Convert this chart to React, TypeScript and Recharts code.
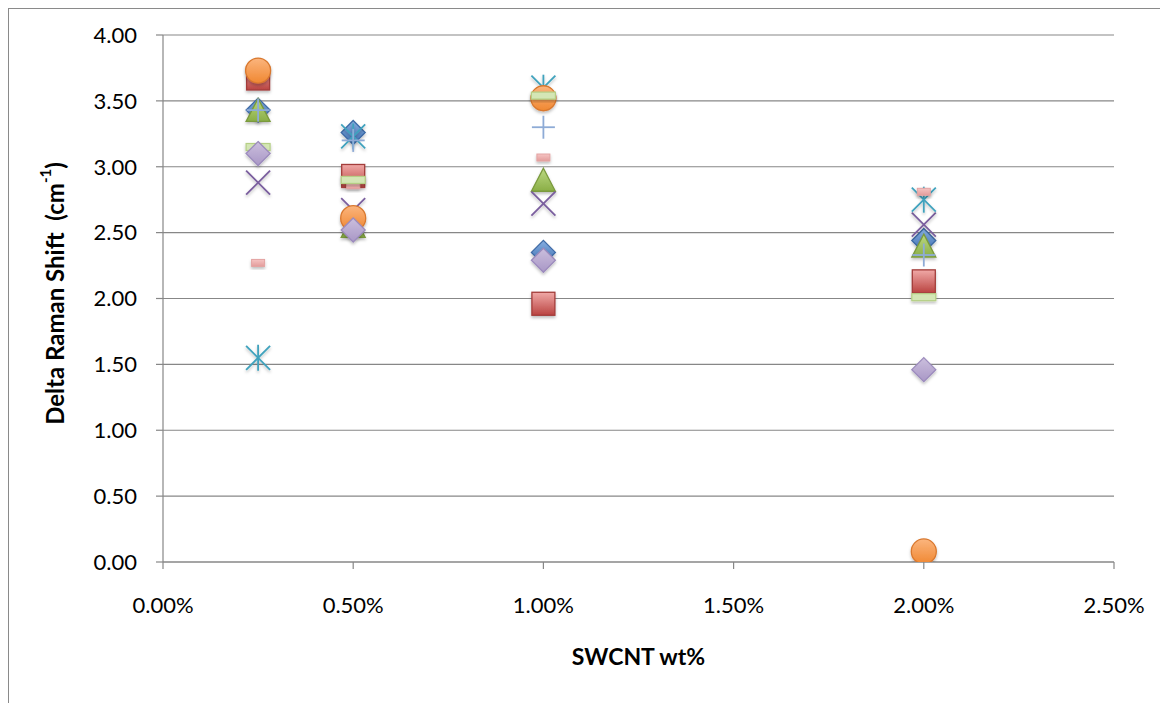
import React from 'react';
import { ScatterChart, Scatter, XAxis, YAxis, CartesianGrid, Label } from 'recharts';

// ---- data ----
const xValues = [0.0025, 0.005, 0.01, 0.02];
const xTicks = [0, 0.005, 0.01, 0.015, 0.02, 0.025];
const yTicks = [0, 0.5, 1, 1.5, 2, 2.5, 3, 3.5, 4];

const s1Diamond = [3.43, 3.26, 2.35, 2.44];
const s2Square = [3.67, 2.93, 1.96, 2.13];
const s3Triangle = [3.42, 2.54, 2.89, 2.39];
const s4Cross = [2.88, 2.67, 2.72, 2.56];
const s5Star = [1.55, 3.23, 3.6, 2.75];
const s6Circle = [3.73, 2.61, 3.52, 0.08];
const s7Plus = [3.43, 3.2, 3.3, 2.33];
const s8Dash = [2.27, 2.86, 3.07, 2.81];
const s9LongDash = [3.15, 2.9, 3.54, 2.01];
const s10Diamond = [3.1, 2.52, 2.29, 1.46];

const FONT = 'Lato, "Open Sans", sans-serif';
const GRAY = '#878787';

const toPoints = (ys: number[]) => xValues.map((x, i) => ({ x, y: ys[i] }));

type P = { cx?: number; cy?: number };

const diamond = (fill: string, stroke: string) => (p: P) => {
  const cx = p.cx ?? 0, cy = p.cy ?? 0, h = 12;
  return (
    <polygon
      points={`${cx},${cy - h} ${cx + h},${cy} ${cx},${cy + h} ${cx - h},${cy}`}
      fill={fill}
      stroke={stroke}
      strokeWidth={1.3}
      filter="url(#mkShadow)"
    />
  );
};

const square = (p: P) => {
  const cx = p.cx ?? 0, cy = p.cy ?? 0, h = 11.5;
  return (
    <rect x={cx - h} y={cy - h} width={2 * h} height={2 * h} fill="url(#gRed)" stroke="#A33D3A" strokeWidth={1.3} filter="url(#mkShadow)" />
  );
};

const triangle = (p: P) => {
  const cx = p.cx ?? 0, cy = p.cy ?? 0;
  return (
    <polygon
      points={`${cx},${cy - 13} ${cx + 12},${cy + 10} ${cx - 12},${cy + 10}`}
      fill="url(#gGreen)"
      stroke="#7A9A3D"
      strokeWidth={1.3}
      filter="url(#mkShadow)"
    />
  );
};

const cross = (p: P) => {
  const cx = p.cx ?? 0, cy = p.cy ?? 0, h = 12;
  return (
    <g stroke="#7A5E9E" strokeWidth={1.8} filter="url(#mkShadow)">
      <line x1={cx - h} y1={cy - h} x2={cx + h} y2={cy + h} />
      <line x1={cx - h} y1={cy + h} x2={cx + h} y2={cy - h} />
    </g>
  );
};

const star = (p: P) => {
  const cx = p.cx ?? 0, cy = p.cy ?? 0, h = 12;
  return (
    <g stroke="#3FA2BD" strokeWidth={1.8} filter="url(#mkShadow)">
      <line x1={cx - h} y1={cy - h} x2={cx + h} y2={cy + h} />
      <line x1={cx - h} y1={cy + h} x2={cx + h} y2={cy - h} />
      <line x1={cx} y1={cy - h - 1} x2={cx} y2={cy + h + 1} />
    </g>
  );
};

const circle = (p: P) => {
  const cx = p.cx ?? 0, cy = p.cy ?? 0;
  return <circle cx={cx} cy={cy} r={12.5} fill="url(#gOrange)" stroke="#D9782E" strokeWidth={1.3} filter="url(#mkShadow)" />;
};

const plus = (p: P) => {
  const cx = p.cx ?? 0, cy = p.cy ?? 0, h = 11.5;
  return (
    <g stroke="#8EABD6" strokeWidth={1.8}>
      <line x1={cx - h} y1={cy} x2={cx + h} y2={cy} />
      <line x1={cx} y1={cy - h} x2={cx} y2={cy + h} />
    </g>
  );
};

const dash = (p: P) => {
  const cx = p.cx ?? 0, cy = p.cy ?? 0;
  return <rect x={cx - 6.5} y={cy - 3.5} width={13} height={7} fill="url(#gPink)" stroke="#E3A3A2" strokeWidth={1} filter="url(#mkShadow)" />;
};

const longDash = (p: P) => {
  const cx = p.cx ?? 0, cy = p.cy ?? 0;
  return <rect x={cx - 12} y={cy - 3.5} width={24} height={7} fill="#D4E6B5" stroke="#B5CF85" strokeWidth={1.2} filter="url(#mkShadow)" />;
};

const series = [
  { name: 'S1', data: s1Diamond, shape: diamond('url(#gBlue)', '#3D6AA6') },
  { name: 'S2', data: s2Square, shape: square },
  { name: 'S3', data: s3Triangle, shape: triangle },
  { name: 'S4', data: s4Cross, shape: cross },
  { name: 'S5', data: s5Star, shape: star },
  { name: 'S6', data: s6Circle, shape: circle },
  { name: 'S7', data: s7Plus, shape: plus },
  { name: 'S8', data: s8Dash, shape: dash },
  { name: 'S9', data: s9LongDash, shape: longDash },
  { name: 'S10', data: s10Diamond, shape: diamond('url(#gLav)', '#9C8BBD') },
];

const YLabel = (props: any) => {
  const vb = props.viewBox || { x: 0, y: 0, width: 0, height: 0 };
  const x = vb.x + 26;
  const y = vb.y + vb.height / 2 - 5;
  return (
    <text
      x={x}
      y={y}
      transform={`rotate(-90 ${x} ${y})`}
      textAnchor="middle"
      dominantBaseline="central"
      fontFamily={FONT}
      fontWeight="bold"
      fontSize={24}
      fill="#000"
      style={{ whiteSpace: 'pre' }}
    >
      {'Delta Raman Shift  (cm'}
      <tspan fontSize={15} dy={-9}>-1</tspan>
      <tspan dy={9}>)</tspan>
    </text>
  );
};

const XLabel = (props: any) => {
  const vb = props.viewBox || { x: 0, y: 0, width: 0, height: 0 };
  return (
    <text x={vb.x + vb.width / 2} y={vb.y + 103} textAnchor="middle" fontFamily={FONT} fontWeight="bold" fontSize={23} fill="#000">
      SWCNT wt%
    </text>
  );
};

export default function App() {
  return (
    <div style={{ position: 'relative', width: 1160, height: 695, overflow: 'hidden', background: '#fff' }}>
      <div
        style={{
          position: 'absolute',
          left: -1,
          top: -1,
          width: 1400,
          height: 1000,
          border: '2px solid #8A8A8A',
          boxSizing: 'border-box',
        }}
      />
      <svg width={0} height={0} style={{ position: 'absolute' }}>
        <defs>
          <linearGradient id="gBlue" x1="0" y1="0" x2="0" y2="1">
            <stop offset="0%" stopColor="#86AEE0" />
            <stop offset="100%" stopColor="#3E70B3" />
          </linearGradient>
          <linearGradient id="gRed" x1="0" y1="0" x2="0" y2="1">
            <stop offset="0%" stopColor="#F0A9A7" />
            <stop offset="100%" stopColor="#BA4441" />
          </linearGradient>
          <linearGradient id="gGreen" x1="0" y1="0" x2="0" y2="1">
            <stop offset="0%" stopColor="#BCD982" />
            <stop offset="100%" stopColor="#8AAE46" />
          </linearGradient>
          <linearGradient id="gOrange" x1="0" y1="0" x2="0" y2="1">
            <stop offset="0%" stopColor="#FBB57E" />
            <stop offset="100%" stopColor="#F08832" />
          </linearGradient>
          <linearGradient id="gLav" x1="0" y1="0" x2="0" y2="1">
            <stop offset="0%" stopColor="#CBBFDD" />
            <stop offset="100%" stopColor="#A997C6" />
          </linearGradient>
          <linearGradient id="gPink" x1="0" y1="0" x2="0" y2="1">
            <stop offset="0%" stopColor="#F5C4C3" />
            <stop offset="100%" stopColor="#E39C9B" />
          </linearGradient>
          <filter id="mkShadow" x="-50%" y="-50%" width="200%" height="200%">
            <feDropShadow dx="0" dy="2" stdDeviation="1.6" floodColor="#000" floodOpacity="0.25" />
          </filter>
        </defs>
      </svg>
      <div style={{ position: 'absolute', left: 0, top: 0 }}>
        <ScatterChart width={1160} height={695} margin={{ top: 27, right: 54, bottom: 21, left: 20 }}>
          <CartesianGrid vertical={false} horizontal stroke={GRAY} strokeWidth={1.2} />
          <XAxis
            type="number"
            dataKey="x"
            domain={[0, 0.025]}
            ticks={xTicks}
            tickFormatter={(v: number) => (v * 100).toFixed(2) + '%'}
            height={120}
            tickSize={7}
            tickMargin={28}
            axisLine={{ stroke: GRAY, strokeWidth: 1.2 }}
            tickLine={{ stroke: GRAY, strokeWidth: 1.2 }}
            tick={{ fill: '#000', fontSize: 22, fontFamily: FONT }}
            allowDataOverflow
          >
            <Label content={XLabel} />
          </XAxis>
          <YAxis
            type="number"
            dataKey="y"
            domain={[0, 4]}
            ticks={yTicks}
            tickFormatter={(v: number) => v.toFixed(2)}
            width={135}
            tickSize={7}
            tickMargin={19}
            axisLine={{ stroke: GRAY, strokeWidth: 1.2 }}
            tickLine={{ stroke: GRAY, strokeWidth: 1.2 }}
            tick={{ fill: '#000', fontSize: 22, fontFamily: FONT }}
            allowDataOverflow
          >
            <Label content={YLabel} />
          </YAxis>
          {series.map((s) => (
            <Scatter key={s.name} name={s.name} data={toPoints(s.data)} shape={s.shape as any} isAnimationActive={false} />
          ))}
        </ScatterChart>
      </div>
    </div>
  );
}
